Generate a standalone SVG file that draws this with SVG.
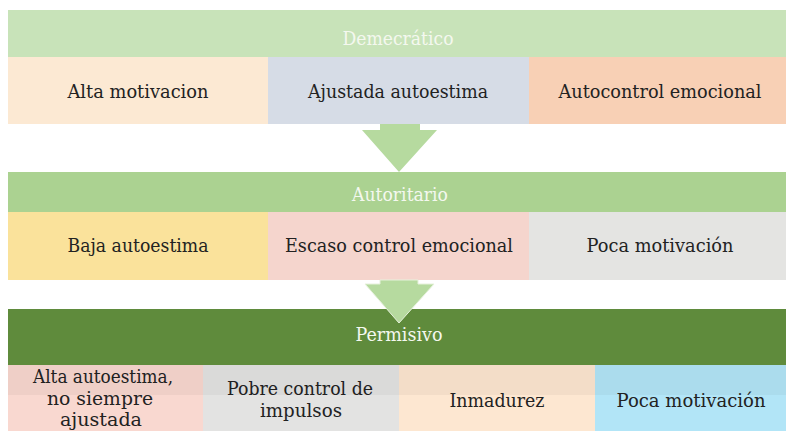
<svg xmlns="http://www.w3.org/2000/svg" width="786" height="431" viewBox="0 0 786 431">
<style>
  text { font-family: "DejaVu Serif", "Liberation Serif", serif; text-anchor: middle; }
  .hd { fill: #f4f8ef; font-size: 19px; }
  .cl { fill: #222; font-size: 19px; }
  .arrow { fill: #b6da9f; }
</style>
<rect width="786" height="431" fill="#ffffff"/>

<g id="demecratico">
  <rect x="8" y="10" width="778" height="47" fill="#c8e3b9"/>
  <text class="hd" x="398" y="45" textLength="111" lengthAdjust="spacingAndGlyphs">Demecrático</text>
</g>
<g id="alta-motivacion">
  <rect x="8" y="57" width="260" height="67" fill="#fce9d3"/>
  <text class="cl" x="138" y="98" textLength="141" lengthAdjust="spacingAndGlyphs">Alta motivacion</text>
</g>
<g id="ajustada-autoestima">
  <rect x="268" y="57" width="261" height="67" fill="#d6dce6"/>
  <text class="cl" x="398" y="98" textLength="180" lengthAdjust="spacingAndGlyphs">Ajustada autoestima</text>
</g>
<g id="autocontrol-emocional">
  <rect x="529" y="57" width="257" height="67" fill="#f8d0b5"/>
  <text class="cl" x="660" y="98" textLength="203" lengthAdjust="spacingAndGlyphs">Autocontrol emocional</text>
</g>

<g id="autoritario">
  <rect x="8" y="172" width="778" height="40" fill="#abd291"/>
  <text class="hd" x="400" y="201" textLength="96" lengthAdjust="spacingAndGlyphs">Autoritario</text>
</g>
<g id="baja-autoestima">
  <rect x="8" y="212" width="260" height="68" fill="#fae29b"/>
  <text class="cl" x="138" y="252" textLength="141" lengthAdjust="spacingAndGlyphs">Baja autoestima</text>
</g>
<g id="escaso-control">
  <rect x="268" y="212" width="261" height="68" fill="#f5d5cd"/>
  <text class="cl" x="399" y="252" textLength="228" lengthAdjust="spacingAndGlyphs">Escaso control emocional</text>
</g>
<g id="poca-motivacion-1">
  <rect x="529" y="212" width="257" height="68" fill="#e4e4e2"/>
  <text class="cl" x="660" y="252" textLength="147" lengthAdjust="spacingAndGlyphs">Poca motivación</text>
</g>

<g id="permisivo">
  <rect x="8" y="309" width="778" height="56" fill="#5f8b3c"/>
  <text class="hd" x="399" y="341" textLength="87" lengthAdjust="spacingAndGlyphs">Permisivo</text>
</g>
<g id="alta-autoestima">
  <rect x="8" y="365" width="195" height="66" fill="#f9d8d0"/>
  <text class="cl" x="103" y="383" textLength="140" lengthAdjust="spacingAndGlyphs">Alta autoestima,</text>
  <text class="cl" x="100" y="405" textLength="106" lengthAdjust="spacingAndGlyphs">no siempre</text>
  <text class="cl" x="101" y="426" textLength="82" lengthAdjust="spacingAndGlyphs">ajustada</text>
</g>
<g id="pobre-control">
  <rect x="203" y="365" width="196" height="66" fill="#e3e3e2"/>
  <text class="cl" x="300" y="395" textLength="146" lengthAdjust="spacingAndGlyphs">Pobre control de</text>
  <text class="cl" x="301" y="417" textLength="82" lengthAdjust="spacingAndGlyphs">impulsos</text>
</g>
<g id="inmadurez">
  <rect x="399" y="365" width="196" height="66" fill="#fde7d1"/>
  <text class="cl" x="497" y="407" textLength="95" lengthAdjust="spacingAndGlyphs">Inmadurez</text>
</g>
<g id="poca-motivacion-2">
  <rect x="595" y="365" width="191" height="66" fill="#b2e5f7"/>
  <text class="cl" x="691" y="407" textLength="149" lengthAdjust="spacingAndGlyphs">Poca motivación</text>
</g>
<rect x="8" y="365" width="778" height="30" fill="#000" opacity="0.04"/>

<g id="connectors">
  <path class="arrow" d="M380,124 H420 V130 H437 L399,172 L362,130 H380 Z"/>
  <path class="arrow" d="M380,280 H418 V284 H434 L399,323 L365,284 H380 Z" stroke="#e6f1dc" stroke-width="1"/>
</g>
</svg>
